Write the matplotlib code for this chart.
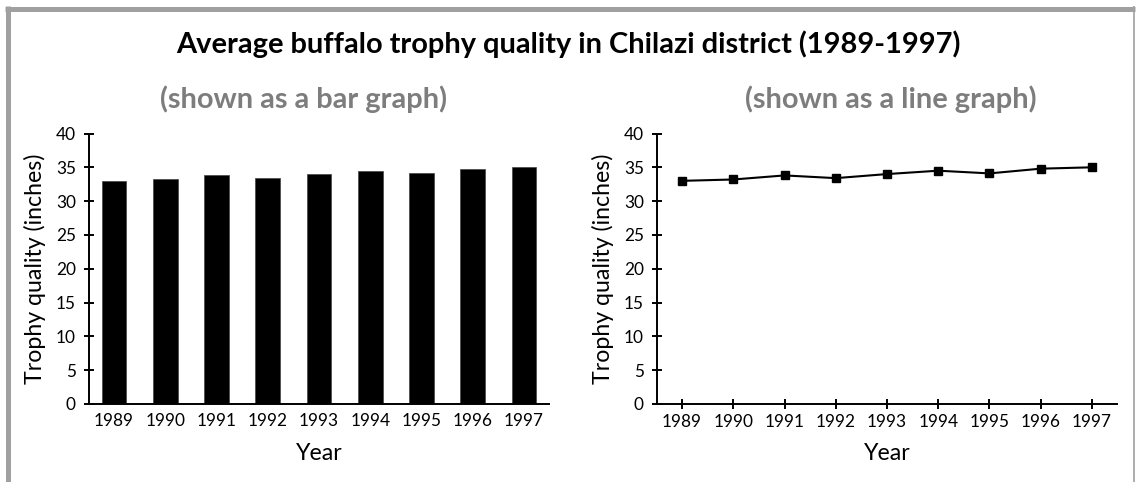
import matplotlib
matplotlib.use("Agg")
import matplotlib.pyplot as plt
from matplotlib.lines import Line2D

# ----------------------------
# Data
# ----------------------------
years = ["1989", "1990", "1991", "1992", "1993", "1994", "1995", "1996", "1997"]
trophy_quality = [33.0, 33.2, 33.8, 33.4, 34.0, 34.5, 34.1, 34.8, 35.0]
y_ticks = [0, 5, 10, 15, 20, 25, 30, 35, 40]

title = "Average buffalo trophy quality in Chilazi district (1989-1997)"
left_subtitle = "(shown as a bar graph)"
right_subtitle = "(shown as a line graph)"
y_label = "Trophy quality (inches)"
x_label = "Year"

plt.rcParams["font.family"] = ["Lato", "DejaVu Sans"]

W, H = 1136, 482
fig = plt.figure(figsize=(W / 100, H / 100), dpi=100)
renderer = fig.canvas.get_renderer()


def fit_size(text, target_px, weight="normal", base=20.0):
    # font size that makes the text about target_px wide
    t = fig.text(0, 0, text, fontsize=base, fontweight=weight)
    w = t.get_window_extent(renderer=renderer).width
    t.remove()
    return base * target_px / w


title_size = fit_size(title, 783, "bold")
tick_size = fit_size("1989", 40)
label_size = fit_size(y_label, 231)


def px_axes(x0, y0, x1, y1):
    # pixel box (top-left origin) -> figure fractions
    return fig.add_axes([x0 / W, 1 - y1 / H, (x1 - x0) / W, (y1 - y0) / H])


def style_axes(ax, show_xticks):
    for side in ["top", "right"]:
        ax.spines[side].set_visible(False)
    for side in ["left", "bottom"]:
        ax.spines[side].set_linewidth(1.4)
    ax.set_ylim(0, 40)
    ax.set_yticks(y_ticks)
    ax.set_xlim(-0.49, 8.49)
    ax.set_xticks(range(len(years)))
    ax.set_xticklabels(years)
    ax.tick_params(axis="y", direction="inout", length=7, width=1.4,
                   labelsize=tick_size, pad=6.0)
    if show_xticks:
        ax.tick_params(axis="x", direction="inout", length=7, width=1.4,
                       labelsize=tick_size, pad=3.8)
    else:
        ax.tick_params(axis="x", length=0, labelsize=tick_size, pad=6.5)
    ax.set_ylabel(y_label, fontsize=label_size)
    ax.set_xlabel(x_label, fontsize=label_size)
    ax.yaxis.set_label_coords(-0.093, 0.5)
    ax.xaxis.set_label_coords(0.5, -0.145)


x = range(len(years))

# ----------------------------
# Bar graph
# ----------------------------
ax1 = px_axes(89, 133.5, 549, 404)
ax1.bar(x, trophy_quality, width=0.48, color="black", edgecolor="#444444", linewidth=0.5)
style_axes(ax1, False)

# ----------------------------
# Line graph
# ----------------------------
ax2 = px_axes(657, 133.5, 1117, 404)
ax2.plot(x, trophy_quality, color="black", linewidth=1.5, marker="s", markersize=5.6)
style_axes(ax2, True)

# ----------------------------
# Titles
# ----------------------------
fig.text(568 / W, 1 - 53 / H, title, ha="center", va="baseline",
         fontsize=title_size, fontweight="bold", color="black")
fig.text(160 / W, 1 - 108 / H, left_subtitle, ha="left", va="baseline",
         fontsize=title_size, fontweight="bold", color="#7d7d7d")
fig.text(1037 / W, 1 - 108 / H, right_subtitle, ha="right", va="baseline",
         fontsize=title_size, fontweight="bold", color="#7d7d7d")

# ----------------------------
# Frame
# ----------------------------
grey = "#a0a0a0"
fig.add_artist(Line2D([5 / W, 1135 / W], [1 - 8.5 / H, 1 - 8.5 / H], color=grey, linewidth=3.6,
                      transform=fig.transFigure, solid_capstyle="butt"))
fig.add_artist(Line2D([7.5 / W, 7.5 / W], [0, 1 - 6 / H], color=grey, linewidth=3.6,
                      transform=fig.transFigure, solid_capstyle="butt"))
fig.add_artist(Line2D([1134 / W, 1134 / W], [0, 1 - 6 / H], color=grey, linewidth=1.2,
                      transform=fig.transFigure, solid_capstyle="butt"))

fig.savefig("out.png", dpi=100)
